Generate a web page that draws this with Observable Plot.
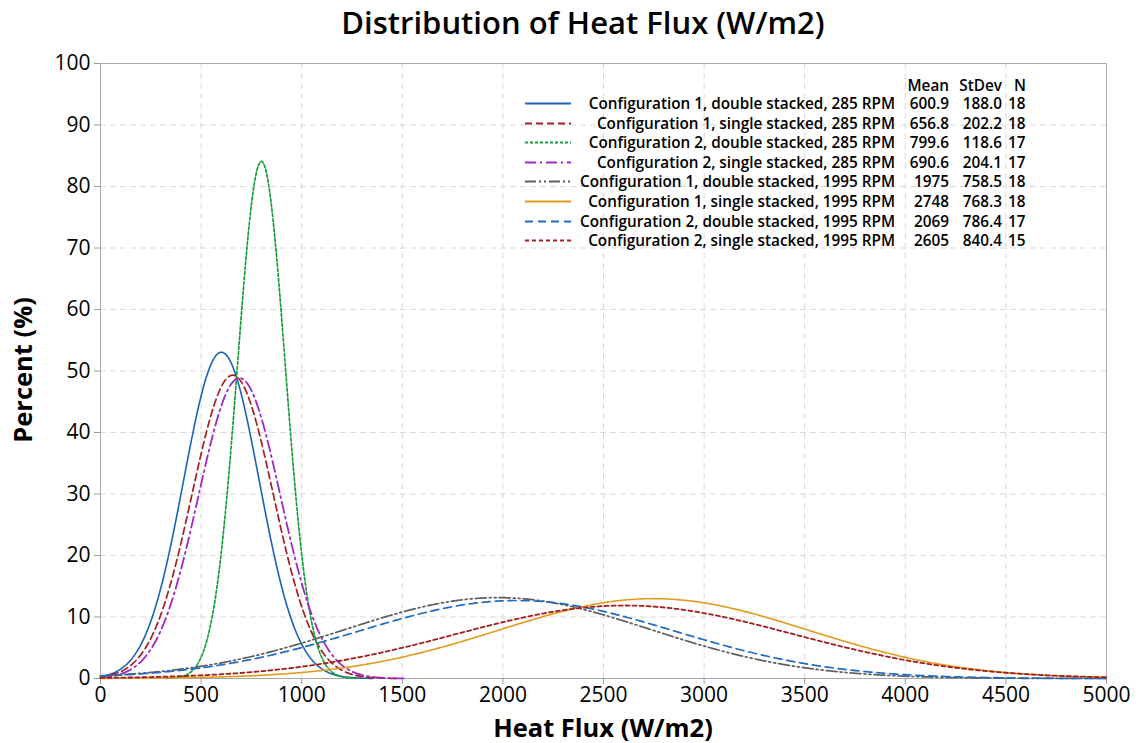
<!DOCTYPE html>
<html>
<head>
<meta charset="utf-8">
<script src="https://cdn.jsdelivr.net/npm/d3@7"></script>
<script src="https://cdn.jsdelivr.net/npm/@observablehq/plot@0.6"></script>
<style>
  body { margin: 0; background: #fff; font-family: "Open Sans", sans-serif; }
  #wrap { position: relative; width: 1140px; height: 743px; overflow: hidden; }
  #title { position: absolute; left: 0; width: 1166px; top: 7px; line-height: 1; text-align: center; font-size: 31px; font-weight: 600; color: #000; }
  #chart { position: absolute; left: 0; top: 40px; }
  #ylab { position: absolute; left: 23px; top: 370px; line-height: 1; transform: translate(-50%, -50%) rotate(-90deg); font-size: 25.5px; font-weight: 700; white-space: nowrap; }
  #xlab { position: absolute; left: 603px; top: 728px; line-height: 1; transform: translate(-50%, -50%); font-size: 25.5px; font-weight: 700; white-space: nowrap; }
  .lg { position: absolute; font-size: 15.3px; font-weight: 600; color: #000; white-space: nowrap; line-height: 20px; }
</style>
</head>
<body>
<div id="wrap">
  <div id="title">Distribution of Heat Flux (W/m2)</div>
  <div id="chart"></div>
  <div id="ylab">Percent (%)</div>
  <div id="xlab">Heat Flux (W/m2)</div>
  <div id="legend"></div>
</div>
<script>
// ---- data ----
const seriesNames = [
  "Configuration 1, double stacked, 285 RPM",
  "Configuration 1, single stacked, 285 RPM",
  "Configuration 2, double stacked, 285 RPM",
  "Configuration 2, single stacked, 285 RPM",
  "Configuration 1, double stacked, 1995 RPM",
  "Configuration 1, single stacked, 1995 RPM",
  "Configuration 2, double stacked, 1995 RPM",
  "Configuration 2, single stacked, 1995 RPM"
];
const means  = [600.9, 656.8, 799.6, 690.6, 1975, 2748, 2069, 2605];
const stdevs = [188.0, 202.2, 118.6, 204.1, 758.5, 768.3, 786.4, 840.4];
const counts = [18, 18, 17, 17, 18, 18, 17, 15];
const meanLabels  = ["600.9", "656.8", "799.6", "690.6", "1975", "2748", "2069", "2605"];
const stdevLabels = ["188.0", "202.2", "118.6", "204.1", "758.5", "768.3", "786.4", "840.4"];
const binWidth = 250;               // percent per 250 W/m2 interval
const xTicks = [0, 500, 1000, 1500, 2000, 2500, 3000, 3500, 4000, 4500, 5000];
const yTicks = [0, 10, 20, 30, 40, 50, 60, 70, 80, 90, 100];

// ---- styles ----
const colors = ["#1c63b7", "#a61e22", "#16a03a", "#a126c9", "#5e5e5e", "#e39b1f", "#1f6ac4", "#a41d1d"];
const dashes = [null, "7,4", "3,2", "11,4,2,4", "11,3,2,3,2,3", null, "8,5", "4,3"];
const widths = [1.6, 1.7, 1.7, 1.8, 1.7, 1.6, 1.7, 1.8];

// fitted normal distribution curve from the legend's Mean / StDev, over mean ± 4 StDev
const curves = seriesNames.map((name, i) => {
  const lo = Math.max(0, means[i] - 4 * stdevs[i]);
  const hi = Math.min(5000, means[i] + 4 * stdevs[i]);
  return d3.range(lo, hi, 5).concat([hi]).map(x => ({
    x,
    y: 100 * binWidth * Math.exp(-0.5 * ((x - means[i]) / stdevs[i]) ** 2) / (stdevs[i] * Math.sqrt(2 * Math.PI)),
    name
  }));
});

const gridStyle = {stroke: "#d9d9d9", strokeOpacity: 1, strokeDasharray: "6,4"};

const chart = Plot.plot({
  width: 1140, height: 703,
  marginTop: 23, marginBottom: 65, marginLeft: 100, marginRight: 34,
  x: {domain: [0, 5000]},
  y: {domain: [0, 100]},
  style: {fontFamily: "Open Sans", fontSize: "21px", color: "#000", background: "transparent", overflow: "visible"},
  marks: [
    Plot.gridX(xTicks.slice(1, -1), gridStyle),
    Plot.gridY(yTicks.slice(1, -1), gridStyle),
    Plot.frame({stroke: "#a9a9a9"}),
    Plot.axisX(xTicks, {tickSize: 6, tickPadding: 3, label: null, stroke: "#9a9a9a", tickFormat: d => String(d)}),
    Plot.axisY(yTicks, {tickSize: 6, tickPadding: 4, label: null, stroke: "#9a9a9a", tickFormat: d => String(d)}),
    ...curves.map((c, i) => Plot.line(c, {
      x: "x", y: "y", stroke: colors[i], strokeWidth: widths[i],
      strokeDasharray: dashes[i] || undefined
    }))
  ]
});
document.getElementById("chart").append(chart);

// ---- legend (table inside the plot) ----
const legend = document.getElementById("legend");
const rowY = i => 93 + 19.6 * i;   // top of each row (page px)
function addText(text, left, right, top, align) {
  const d = document.createElement("div");
  d.className = "lg";
  d.textContent = text;
  d.style.top = top + "px";
  if (align === "right") { d.style.right = (1140 - right) + "px"; }
  else if (align === "center") { d.style.left = left + "px"; d.style.width = (right - left) + "px"; d.style.textAlign = "center"; }
  else { d.style.left = left + "px"; }
  legend.append(d);
}
addText("Mean", 0, 949, 75, "right");
addText("StDev", 0, 1002, 75, "right");
addText("N", 1008, 1032, 75, "center");
seriesNames.forEach((name, i) => {
  const top = rowY(i);
  const svg = d3.create("svg").attr("width", 50).attr("height", 20)
    .style("position", "absolute").style("left", "524px").style("top", top + "px");
  svg.append("line").attr("x1", 1).attr("x2", 47).attr("y1", 10.5).attr("y2", 10.5)
    .attr("stroke", colors[i]).attr("stroke-width", widths[i] + 0.2)
    .attr("stroke-dasharray", dashes[i] || null);
  legend.append(svg.node());
  addText(name, 0, 895, top, "right");
  addText(meanLabels[i], 0, 949, top, "right");
  addText(stdevLabels[i], 0, 1002, top, "right");
  addText(String(counts[i]), 1008, 1032, top, "left");
});
</script>
</body>
</html>
